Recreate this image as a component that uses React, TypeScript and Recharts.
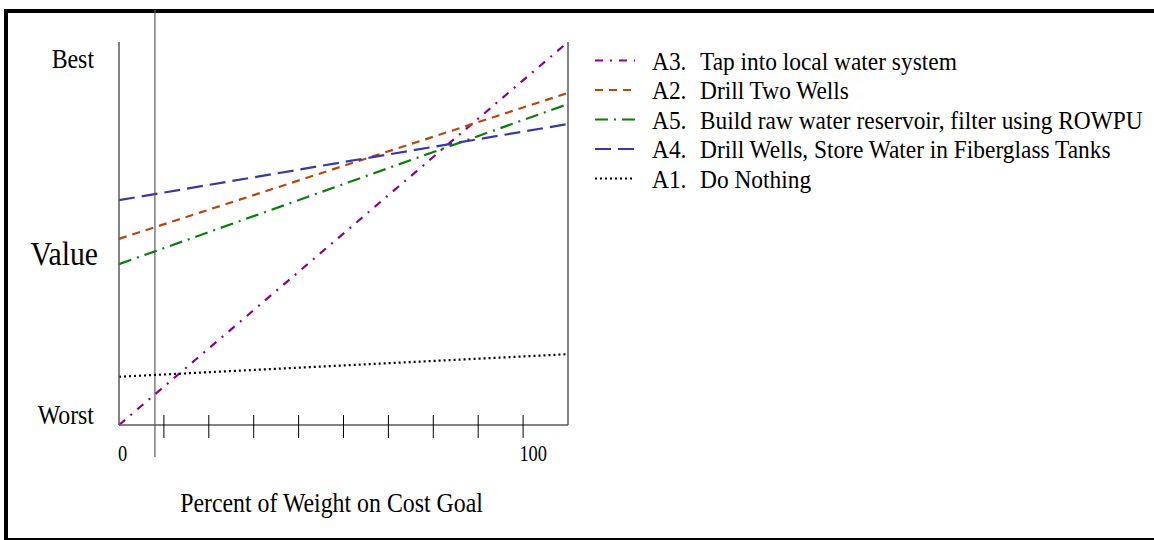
import React from "react";
import { LineChart, Line, XAxis, YAxis, ReferenceLine, Label } from "recharts";

const FONT = '"Liberation Serif", "Times New Roman", Times, serif';
const SX = 0.9;

// ---- data ----
const percentWeight = [0, 100];
const seriesKeys = ["A3", "A2", "A5", "A4", "A1"];
const seriesLabels = ["A3.", "A2.", "A5.", "A4.", "A1."];
const seriesNames = [
  "Tap into local water system",
  "Drill Two Wells",
  "Build raw water reservoir, filter using ROWPU",
  "Drill Wells, Store Water in Fiberglass Tanks",
  "Do Nothing",
];
const a3Values = [0, 100];
const a2Values = [48.6, 86.7];
const a5Values = [42.0, 83.8];
const a4Values = [58.7, 78.6];
const a1Values = [12.6, 18.5];
const seriesValues = [a3Values, a2Values, a5Values, a4Values, a1Values];

const xTickValues = [0, 10, 20, 30, 40, 50, 60, 70, 80, 90, 100];
const xTickLabels: Record<number, string> = { 0: "0", 100: "100" };
const yTickValues = [0, 93];
const yTickLabels: Record<number, string> = { 0: "Worst", 93: "Best" };
const yAxisTitle = "Value";
const xAxisTitle = "Percent of Weight on Cost Goal";
const cutoffPercent = 8;

// ---- styles ----
const seriesColors = ["#8B008B", "#B5470F", "#0A7D0A", "#3838A8", "#000000"];
const seriesDashes = ["8 7 2 7", "8 6", "13 6 2 6", "16 7", "2 3"];

const data = percentWeight.map((p, i) => {
  const row: Record<string, number> = { pct: p };
  seriesKeys.forEach((k, s) => {
    row[k] = seriesValues[s][i];
  });
  return row;
});

const AXIS_GRAY = "#5a5a5a";

function XTick(props: any) {
  const { x, y, payload } = props;
  const v = payload.value;
  const label = xTickLabels[v];
  if (label !== undefined) {
    const start = v === 0;
    return (
      <text
        transform={`translate(${x + (start ? -1 : -21)},${y + 36}) scale(0.8,1)`}
        textAnchor={start ? "start" : "end"}
        fontFamily={FONT}
        fontSize={23}
        fill="#000"
      >
        {label}
      </text>
    );
  }
  return <line x1={x} x2={x} y1={y - 10} y2={y + 13} stroke="#000" strokeWidth={1} />;
}

function YTick(props: any) {
  const { x, y, payload } = props;
  const label = yTickLabels[payload.value];
  return (
    <text
      transform={`translate(${x - 25},${y - 1}) scale(${SX},1)`}
      textAnchor="end"
      fontFamily={FONT}
      fontSize={26.5}
      fill="#000"
    >
      {label}
    </text>
  );
}

function CutoffLine(props: any) {
  const top = Math.min(props.y1, props.y2) - 32;
  const bottom = Math.max(props.y1, props.y2) + 32;
  return <line x1={props.x1} x2={props.x2} y1={top} y2={bottom} stroke={AXIS_GRAY} strokeWidth={1.2} />;
}

export default function App() {
  return (
    <div style={{ position: "absolute", left: 0, top: 0, width: 1154, height: 540, background: "#fff" }}>
      <div
        style={{
          position: "absolute",
          left: 4,
          top: 9,
          width: 1150,
          height: 531,
          boxSizing: "border-box",
          borderTop: "4px solid #000",
          borderLeft: "4px solid #000",
          borderBottom: "2px solid #000",
        }}
      />
      <div style={{ position: "absolute", left: 0, top: 0 }}>
        <LineChart width={1154} height={540} data={data} margin={{ top: 42, right: 586, bottom: 85, left: 59 }}>
          <XAxis
            dataKey="pct"
            type="number"
            domain={[0, 100]}
            ticks={xTickValues}
            interval={0}
            tickSize={0}
            tickMargin={0}
            tickLine={false}
            tick={<XTick />}
            height={30}
            axisLine={{ stroke: AXIS_GRAY, strokeWidth: 1.5 }}
          >
            <Label
              content={(p: any) => {
                const vb = p.viewBox || { x: 119, y: 425, width: 449, height: 30 };
                return (
                  <text
                    transform={`translate(${vb.x + vb.width / 2 - 12},${vb.y + 87}) scale(${SX},1)`}
                    textAnchor="middle"
                    fontFamily={FONT}
                    fontSize={26.5}
                    fill="#000"
                  >
                    {xAxisTitle}
                  </text>
                );
              }}
            />
          </XAxis>
          <YAxis
            type="number"
            domain={[0, 100]}
            ticks={yTickValues}
            interval={0}
            width={60}
            tickSize={0}
            tickMargin={0}
            tickLine={false}
            tick={<YTick />}
            axisLine={{ stroke: AXIS_GRAY, strokeWidth: 1.5 }}
          >
            <Label
              content={(p: any) => {
                const vb = p.viewBox || { x: 59, y: 42, width: 60, height: 383 };
                return (
                  <text
                    transform={`translate(${vb.x + vb.width - 21},${vb.y + 223}) scale(${SX},1)`}
                    textAnchor="end"
                    fontFamily={FONT}
                    fontSize={33}
                    fill="#000"
                  >
                    {yAxisTitle}
                  </text>
                );
              }}
            />
          </YAxis>
          <ReferenceLine x={100} stroke={AXIS_GRAY} strokeWidth={1.5} />
          <ReferenceLine x={cutoffPercent} shape={(p: any) => <CutoffLine {...p} />} />
          {seriesKeys.map((k, i) => (
            <Line
              key={k}
              type="linear"
              dataKey={k}
              stroke={seriesColors[i]}
              strokeWidth={2.2}
              strokeDasharray={seriesDashes[i]}
              dot={false}
              activeDot={false}
              isAnimationActive={false}
            />
          ))}
        </LineChart>
      </div>
      <svg
        width={1154}
        height={540}
        style={{ position: "absolute", left: 0, top: 0, pointerEvents: "none" }}
      >
        {seriesKeys.map((k, i) => {
          const by = 69.5 + i * 29.5;
          return (
            <g key={k}>
              <line
                x1={595}
                x2={635}
                y1={by - 9}
                y2={by - 9}
                stroke={seriesColors[i]}
                strokeWidth={2.2}
                strokeDasharray={seriesDashes[i]}
              />
              <text transform={`translate(652,${by}) scale(${SX},1)`} fontFamily={FONT} fontSize={26} fill="#000">
                {seriesLabels[i]}
              </text>
              <text transform={`translate(700,${by}) scale(${SX},1)`} fontFamily={FONT} fontSize={26} fill="#000">
                {seriesNames[i]}
              </text>
            </g>
          );
        })}
      </svg>
    </div>
  );
}
